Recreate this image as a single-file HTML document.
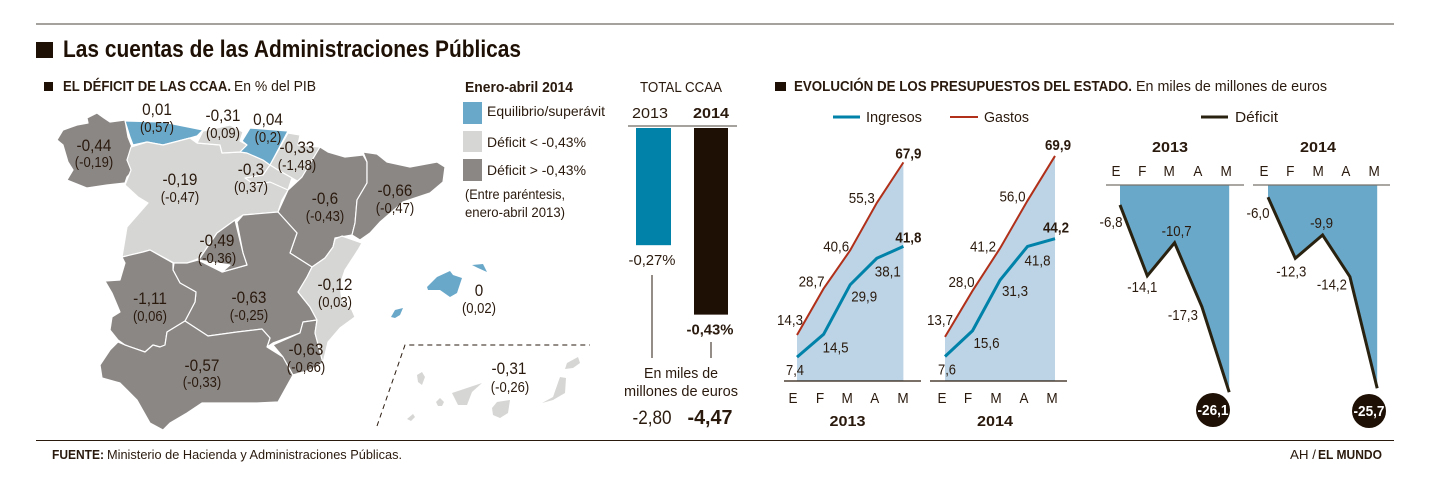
<!DOCTYPE html>
<html lang="es">
<head>
<meta charset="utf-8">
<title>Las cuentas de las Administraciones Públicas</title>
<style>
html,body{margin:0;padding:0;background:#fff;}
svg{display:block;}
text{font-family:"Liberation Sans Narrow","Liberation Sans",sans-serif;fill:#2a1a0e;}
.b{font-weight:bold;}
.big{font-size:17px;text-anchor:middle;}
.small{font-size:14.5px;text-anchor:middle;}
.m{text-anchor:middle;}
.lbl{font-size:15px;text-anchor:middle;}
.tick{font-size:15px;text-anchor:middle;}
.region{stroke:#fff;stroke-width:1.2;stroke-linejoin:round;}
.blue{fill:#6aa8c9;}
.light{fill:#d6d6d4;}
.dark{fill:#8b8785;}
</style>
</head>
<body>
<svg id="chart" xmlns="http://www.w3.org/2000/svg" width="1429" height="482" viewBox="0 0 1429 482">
<rect width="1429" height="482" fill="#fff"/>
<line x1="36" y1="24" x2="1394" y2="24" stroke="#6f6a64" stroke-width="1.3"/>
<rect x="36" y="42" width="17" height="16" fill="#1e1004"/>
<text class="b" x="63" y="57" font-size="24" textLength="458" lengthAdjust="spacingAndGlyphs" style="fill:#1e1004">Las cuentas de las Administraciones Públicas</text>

<rect x="44" y="82" width="9" height="9" fill="#1e1004"/>
<text class="b" x="63" y="91" font-size="14.5" textLength="168" lengthAdjust="spacingAndGlyphs">EL DÉFICIT DE LAS CCAA.</text>
<text x="234" y="91" font-size="14.5" textLength="82" lengthAdjust="spacingAndGlyphs">En % del PIB</text>

<g id="map">
<polygon class="region dark" points="125,120 110,122 104,118 97,113 87,118 88,123 77,125 63,130 57,140 63,145 68,162 73,170 67,180 87,188 107,185 125,183 127,177 133,170 127,160 132,147 128,137"/>
<polygon class="region blue" points="125,121 163,122 203,130 197,136 190,138 163,145 147,142 133,145 130,137"/>
<polygon class="region light" points="131,147 147,142 163,145 190,138 197,143 220,145 222,153 240,152 247,153 263,160 270,165 263,176 278,170 292,178 288,190 282,200 278,212 243,215 235,220 217,233 200,258 187,263 174,263 150,250 143,252 122,257 127,227 148,203 138,197 125,185 131,170 127,160"/>
<polygon class="region light" points="203,131 230,125 243,132 240,141 247,145 240,152 222,153 220,145 197,143"/>
<polygon class="region blue" points="250,128 288,131 270,165 263,160 247,153 240,152 247,145 242,141"/>
<polygon class="region light" points="288,133 300,135 298,145 320,147 302,177 301,183 292,178 278,170 270,165"/>
<polygon class="region light" points="245,178 263,175 270,165 278,170 292,178 288,190 270,182 255,185"/>
<polygon class="region dark" points="320,147 328,152 345,157 363,155 367,162 367,183 357,200 355,223 352,235 335,238 333,247 325,258 312,267 290,253 297,233 278,212 288,190 302,177"/>
<polygon class="region dark" points="363,152 377,154 387,162 410,167 437,162 445,167 443,182 430,193 403,202 380,222 370,233 360,240 352,235 355,223 357,200 367,183 367,162"/>
<polygon class="region dark" points="237,222 243,215 278,212 297,233 290,253 312,267 307,277 298,292 310,307 317,320 303,322 300,333 273,343 267,347 270,338 262,329 237,332 208,336 185,321 195,302 196,292 180,283 173,270 174,263 187,263 198,260 222,272 247,265 243,253"/>
<polygon class="region dark" points="235,220 243,253 247,265 222,272 230,265 198,260 200,258 217,233"/>
<polygon class="region dark" points="105,281 120,280 125,263 122,257 143,252 150,250 173,263 173,270 180,283 196,292 195,302 185,321 167,332 165,345 160,347 153,345 145,352 125,345 118,340 110,330 112,317 120,312 112,293"/>
<polygon class="region dark" points="118,342 125,345 145,352 153,345 160,347 165,345 167,332 185,321 208,336 237,332 262,329 270,338 267,347 283,357 293,375 278,402 257,403 237,403 202,403 187,413 170,423 163,430 150,423 137,400 120,383 102,378 100,365 110,350"/>
<polygon class="region dark" points="273,345 300,333 303,322 317,320 315,333 323,363 310,370 293,375 283,357"/>
<polygon class="region light" points="335,239 342,236 362,243 358,250 345,270 340,285 342,300 352,310 355,317 340,328 328,342 323,363 315,333 317,320 310,307 298,292 307,277 312,267 325,258 333,247"/>
<polygon class="blue" points="427,287 437,277 450,271 453,275 462,278 457,293 450,297 440,290 428,290"/>
<polygon class="blue" points="472,265 483,264 487,272 478,268"/>
<polygon class="blue" points="391,317 395,310 403,308 400,315 395,318"/>
<polygon class="light" points="565,369 567,363 578,357 580,363 573,368"/>
<polygon class="light" points="542,403 553,397 560,377 566,378 565,393 553,400"/>
<polygon class="light" points="492,408 497,402 510,400 508,413 500,418 493,415"/>
<polygon class="light" points="452,393 467,388 482,383 472,392 467,405 458,405"/>
<polygon class="light" points="436,402 440,398 444,402 442,406 438,406"/>
<polygon class="light" points="417,375 422,372 425,377 422,385 418,382"/>
<polygon class="light" points="407,419 413,414 415,417 411,421"/>
<polyline points="377,426 405,345 590,345" fill="none" stroke="#2a1a0e" stroke-width="1" stroke-dasharray="5 4"/>
</g>

<g>
<text class="big" x="94" y="151">-0,44</text><text class="small" x="94" y="167">(-0,19)</text>
<text class="big" x="157" y="115">0,01</text><text class="small" x="157" y="132">(0,57)</text>
<text class="big" x="223" y="121">-0,31</text><text class="small" x="223" y="138">(0,09)</text>
<text class="big" x="268" y="125">0,04</text><text class="small" x="268" y="142">(0,2)</text>
<text class="big" x="297" y="153">-0,33</text><text class="small" x="297" y="170">(-1,48)</text>
<text class="big" x="180" y="185">-0,19</text><text class="small" x="180" y="202">(-0,47)</text>
<text class="big" x="251" y="175">-0,3</text><text class="small" x="251" y="192">(0,37)</text>
<text class="big" x="325" y="204">-0,6</text><text class="small" x="325" y="221">(-0,43)</text>
<text class="big" x="395" y="196">-0,66</text><text class="small" x="395" y="213">(-0,47)</text>
<text class="big" x="217" y="246">-0,49</text><text class="small" x="217" y="263">(-0,36)</text>
<text class="big" x="150" y="304">-1,11</text><text class="small" x="150" y="321">(0,06)</text>
<text class="big" x="249" y="303">-0,63</text><text class="small" x="249" y="320">(-0,25)</text>
<text class="big" x="335" y="290">-0,12</text><text class="small" x="335" y="307">(0,03)</text>
<text class="big" x="306" y="355">-0,63</text><text class="small" x="306" y="372">(-0,66)</text>
<text class="big" x="202" y="371">-0,57</text><text class="small" x="202" y="387">(-0,33)</text>
<text class="big" x="479" y="296">0</text><text class="small" x="479" y="313">(0,02)</text>
<text class="big" x="509" y="374">-0,31</text><text class="small" x="510" y="392">(-0,26)</text>
</g>

<g>
<text class="b" x="465" y="92" font-size="14.5" textLength="108" lengthAdjust="spacingAndGlyphs">Enero-abril 2014</text>
<rect class="blue" x="463" y="102" width="19" height="22"/>
<text x="487" y="116" font-size="14" textLength="118" lengthAdjust="spacingAndGlyphs">Equilibrio/superávit</text>
<rect class="light" x="463" y="131" width="19" height="21"/>
<text x="487" y="147" font-size="14" textLength="99" lengthAdjust="spacingAndGlyphs">Déficit &lt; -0,43%</text>
<rect class="dark" x="463" y="159" width="19" height="22"/>
<text x="487" y="175" font-size="14" textLength="99" lengthAdjust="spacingAndGlyphs">Déficit &gt; -0,43%</text>
<text x="465" y="199" font-size="13.5" textLength="100" lengthAdjust="spacingAndGlyphs">(Entre paréntesis,</text>
<text x="465" y="217" font-size="13.5" textLength="100" lengthAdjust="spacingAndGlyphs">enero-abril 2013)</text>
</g>

<g id="totals">
<text class="m" x="681" y="92" font-size="15" textLength="82" lengthAdjust="spacingAndGlyphs">TOTAL CCAA</text>
<line x1="628" y1="126" x2="737" y2="126" stroke="#6f6a64" stroke-width="1.2"/>
<line x1="652" y1="275" x2="652" y2="358" stroke="#2a1a0e" stroke-width="1"/>
<line x1="711" y1="342" x2="711" y2="358" stroke="#2a1a0e" stroke-width="1"/>
<text class="m" x="681" y="378" font-size="15" textLength="74" lengthAdjust="spacingAndGlyphs">En miles de</text>
<text class="m" x="681" y="396" font-size="15" textLength="114" lengthAdjust="spacingAndGlyphs">millones de euros</text>
<text class="m" x="652" y="424" font-size="19" textLength="39" lengthAdjust="spacingAndGlyphs">-2,80</text>
<text class="m b" x="710" y="424" font-size="20" textLength="45" lengthAdjust="spacingAndGlyphs">-4,47</text>
</g>

<rect x="775" y="82" width="11" height="9" fill="#1e1004"/>
<text class="b" x="794" y="91" font-size="14.5" textLength="338" lengthAdjust="spacingAndGlyphs">EVOLUCIÓN DE LOS PRESUPUESTOS DEL ESTADO.</text>
<text x="1136" y="91" font-size="14.5" textLength="191" lengthAdjust="spacingAndGlyphs">En miles de millones de euros</text>

<g>
<line x1="833" y1="117" x2="860" y2="117" stroke="#0082a9" stroke-width="3"/>
<text x="866" y="122" font-size="15" textLength="56" lengthAdjust="spacingAndGlyphs">Ingresos</text>
<line x1="950" y1="117" x2="978" y2="117" stroke="#b0301a" stroke-width="2"/>
<text x="984" y="122" font-size="15" textLength="45" lengthAdjust="spacingAndGlyphs">Gastos</text>
<line x1="1201" y1="117" x2="1228" y2="117" stroke="#2a2210" stroke-width="3"/>
<text x="1235" y="122" font-size="15" textLength="43" lengthAdjust="spacingAndGlyphs">Déficit</text>
</g>

<line x1="36" y1="440.5" x2="1394" y2="440.5" stroke="#2a1a0e" stroke-width="1"/>
<text class="b" x="52" y="459" font-size="13" textLength="52" lengthAdjust="spacingAndGlyphs">FUENTE:</text>
<text x="107" y="459" font-size="13" textLength="295" lengthAdjust="spacingAndGlyphs">Ministerio de Hacienda y Administraciones Públicas.</text>
<text x="1290" y="459" font-size="13" textLength="26" lengthAdjust="spacingAndGlyphs">AH /</text>
<text class="b" x="1318" y="459" font-size="13" textLength="64" lengthAdjust="spacingAndGlyphs">EL MUNDO</text>
</svg>

<script>
const months = ['E', 'F', 'M', 'A', 'M'];
const totalYears = ['2013', '2014'];
const totalDeficit = [0.27, 0.43];
const totalLabels = ['-0,27%', '-0,43%'];
const gastos2013 = [14.3, 28.7, 40.6, 55.3, 67.9];
const ingresos2013 = [7.4, 14.5, 29.9, 38.1, 41.8];
const gastos2014 = [13.7, 28.0, 41.2, 56.0, 69.9];
const ingresos2014 = [7.6, 15.6, 31.3, 41.8, 44.2];
const deficit2013 = [-6.8, -14.1, -10.7, -17.3, -26.1];
const deficit2014 = [-6.0, -12.3, -9.9, -14.2, -25.7];

const svg = document.getElementById('chart');
const NS = 'http://www.w3.org/2000/svg';
function make(tag, attrs, text) {
  const el = document.createElementNS(NS, tag);
  for (const k in attrs) el.setAttribute(k, attrs[k]);
  if (text !== undefined) el.textContent = text;
  svg.appendChild(el);
  return el;
}
function fmt(v) { return v.toFixed(1).replace('.', ','); }

/* Total CCAA bars */
const totalTop = 128;
const totalScale = 434;
function totalY(v) { return totalTop + v * totalScale; }
const totalBarX = [636, 694];
const totalBarW = [35, 34];
const totalBarFill = ['#0082a9', '#1e1004'];
const totalHeadX = [650, 711];
const totalLabelX = [652, 710];
totalDeficit.forEach(function (v, i) {
  const bar = make('rect', { x: totalBarX[i], y: totalTop, width: totalBarW[i], height: totalY(v) - totalTop, fill: totalBarFill[i] });
  
  
  const head = make('text', { x: totalHeadX[i], y: 118, 'font-size': 15, class: i ? 'm b' : 'm', textLength: 36, lengthAdjust: 'spacingAndGlyphs' }, totalYears[i]);
  
  
  const lab = make('text', { x: totalLabelX[i], y: totalY(v) + 20, 'font-size': 15, class: i ? 'm b' : 'm', textLength: 47, lengthAdjust: 'spacingAndGlyphs' }, totalLabels[i]);
  
  
});

/* Ingresos / gastos panels */
const budgetBase = 381;
const budgetScale = 3.22;
function budgetY(v) { return budgetBase - v * budgetScale; }
function drawBudget(year, gastos, ingresos, x0, step, axisFrom, axisTo, yearX, tickShift, gOff, iOff) {
  function x(i) { return x0 + i * step; }
  const n = gastos.length;
  let area = '';
  gastos.forEach(function (v, i) { area += x(i) + ',' + budgetY(v) + ' '; });
  area += x(n - 1) + ',' + budgetBase + ' ' + x(0) + ',' + budgetBase;
  const a = make('polygon', { points: area, fill: '#bcd4e5' });
  
  
  const ax = make('line', { x1: axisFrom, y1: budgetBase, x2: axisTo, y2: budgetBase, stroke: '#2a1a0e', 'stroke-width': 1.2 });
  
  
  const lg = make('polyline', { points: gastos.map(function (v, i) { return x(i) + ',' + budgetY(v); }).join(' '), fill: 'none', stroke: '#b0301a', 'stroke-width': 2 });
  
  
  const li = make('polyline', { points: ingresos.map(function (v, i) { return x(i) + ',' + budgetY(v); }).join(' '), fill: 'none', stroke: '#0082a9', 'stroke-width': 3 });
  
  
  gastos.forEach(function (v, i) {
    const t = make('text', { x: x(i) + gOff[i][0], y: budgetY(v) + gOff[i][1], class: i === n - 1 ? 'lbl b' : 'lbl', textLength: 26, lengthAdjust: 'spacingAndGlyphs' }, fmt(v));
    
    
  });
  ingresos.forEach(function (v, i) {
    const t = make('text', { x: x(i) + iOff[i][0], y: budgetY(v) + iOff[i][1], class: i === n - 1 ? 'lbl b' : 'lbl', textLength: i === 0 ? 18 : 26, lengthAdjust: 'spacingAndGlyphs' }, fmt(v));
    
    
  });
  months.forEach(function (m, i) {
    const t = make('text', { x: x(i) + tickShift[i], y: 403, class: 'tick' }, m);
    
    
  });
  const yl = make('text', { x: yearX, y: 426, class: 'm b', 'font-size': 15, textLength: 36, lengthAdjust: 'spacingAndGlyphs' }, year);
  
  
}
drawBudget('2013', gastos2013, ingresos2013, 797, 26.6, 784, 921, 847.5, [-4, -3.6, -3, -2, -0.4],
  [[-7, -10], [-12, -2], [-14, 1], [-15, 0], [5, -4]],
  [[-2, 18], [12, 18], [14, 17], [11, 18], [5, -4]]);
drawBudget('2014', gastos2014, ingresos2014, 945, 27.5, 930, 1067, 995, [-3, -4.5, -4, -3.5, -3],
  [[-5, -12], [-11, -4], [-17, 3], [-15, 1], [3, -6]],
  [[2, 18], [14, 17], [15, 16], [10, 19], [1, -6]]);

/* Deficit panels */
const deficitZero = 139;
const deficitScale = -9.7;
const deficitTop = 185;
function deficitY(v) { return deficitZero + v * deficitScale; }
function drawDeficit(year, values, x0, step, axisFrom, axisTo, yearX, tickShift, off, circleX, circleY) {
  function x(i) { return x0 + i * step; }
  const n = values.length;
  let area = x(0) + ',' + deficitTop + ' ' + x(n - 1) + ',' + deficitTop + ' ';
  for (let i = n - 1; i >= 0; i--) area += x(i) + ',' + deficitY(values[i]) + ' ';
  const a = make('polygon', { points: area, fill: '#6aa8c9' });
  
  
  const ax = make('line', { x1: axisFrom, y1: deficitTop, x2: axisTo, y2: deficitTop, stroke: '#77706a', 'stroke-width': 1.3 });
  
  
  const l = make('polyline', { points: values.map(function (v, i) { return x(i) + ',' + deficitY(v); }).join(' '), fill: 'none', stroke: '#2a2210', 'stroke-width': 3 });
  
  
  values.forEach(function (v, i) {
    if (i === n - 1) return;
    const t = make('text', { x: x(i) + off[i][0], y: deficitY(v) + off[i][1], class: 'lbl', textLength: fmt(v).length > 4 ? 30 : 23, lengthAdjust: 'spacingAndGlyphs' }, fmt(v));
    
    
  });
  const c = make('circle', { cx: circleX, cy: circleY, r: 17, fill: '#1e1004' });
  
  
  const ct = make('text', { x: circleX, y: circleY + 5, class: 'lbl b', style: 'fill:#fff', textLength: 31, lengthAdjust: 'spacingAndGlyphs' }, fmt(values[n - 1]));
  
  
  months.forEach(function (m, i) {
    const t = make('text', { x: x(i) + tickShift[i], y: 176, class: 'tick' }, m);
    
    
  });
  const yl = make('text', { x: yearX, y: 152, class: 'm b', 'font-size': 15, textLength: 36, lengthAdjust: 'spacingAndGlyphs' }, year);
  
  
}
drawDeficit('2013', deficit2013, 1120, 27.3, 1106, 1244, 1170, [-4, -5, -5.5, -4, -3],
  [[-9, 22], [-5, 16], [2, -7], [-19, 13]], 1213, 410);
drawDeficit('2014', deficit2014, 1268, 27.3, 1253, 1390, 1318, [-4, -5, -4.5, -4, -3],
  [[-10, 21], [-4, 18], [-1, -7], [-18, 13]], 1369, 411);

/* Condense map labels and month ticks to the reference's narrow type width */
document.querySelectorAll('.big, .small, .tick').forEach(function (t) {
  t.setAttribute('lengthAdjust', 'spacingAndGlyphs');
  t.setAttribute('textLength', (t.getComputedTextLength() * 0.9).toFixed(1));
});
</script>
</body>
</html>
